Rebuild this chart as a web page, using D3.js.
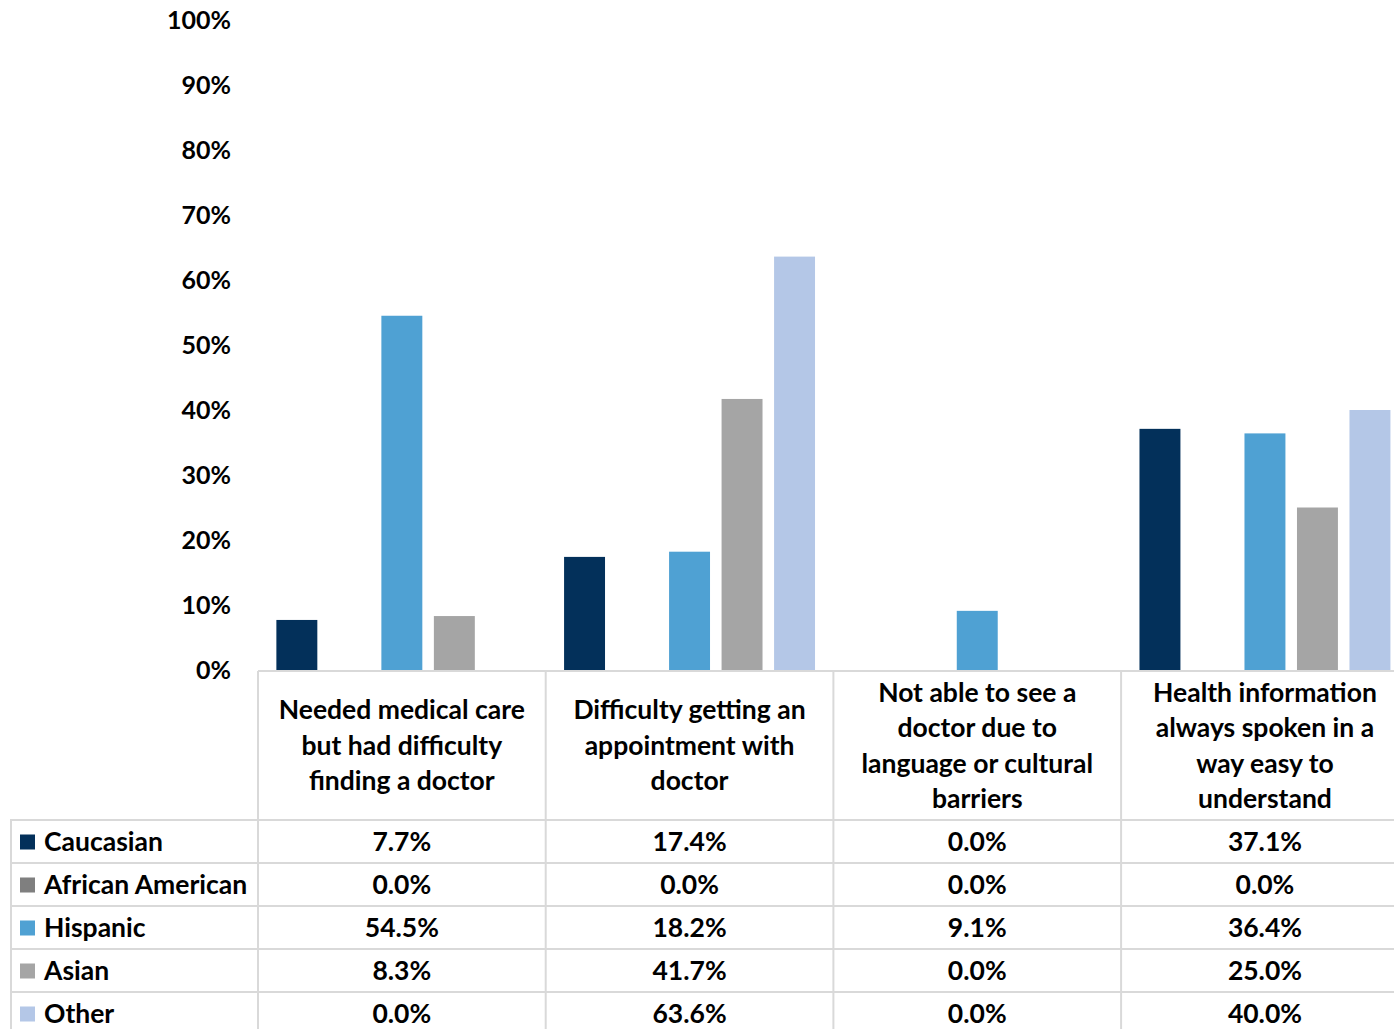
<!DOCTYPE html>
<html>
<head>
<meta charset="utf-8">
<script src="https://cdn.jsdelivr.net/npm/d3@7"></script>
<style>
  body { margin: 0; background: #fff; }
  svg text { font-family: Lato, "Open Sans", sans-serif; font-weight: 700; fill: #000; }
</style>
</head>
<body>
<svg id="chart"></svg>
<script>
// categories and their wrapped header lines
var categories = ["need", "appt", "lang", "info"];
var categoryLines = [
    ["Needed medical care", "but had difficulty", "finding a doctor"],
    ["Difficulty getting an", "appointment with", "doctor"],
    ["Not able to see a", "doctor due to", "language or cultural", "barriers"],
    ["Health information", "always spoken in a", "way easy to", "understand"]
];
var series = ["Caucasian", "African American", "Hispanic", "Asian", "Other"];
var colors = ["#03305A", "#7F7F7F", "#4FA1D3", "#A5A5A5", "#B4C7E7"];

// values in %, one array per series (same order as categories)
var caucasian = [7.7, 17.4, 0.0, 37.1];
var africanAmerican = [0.0, 0.0, 0.0, 0.0];
var hispanic = [54.5, 18.2, 9.1, 36.4];
var asian = [8.3, 41.7, 0.0, 25.0];
var other = [0.0, 63.6, 0.0, 40.0];
var yTicks = [0, 10, 20, 30, 40, 50, 60, 70, 80, 90, 100];

var values = [caucasian, africanAmerican, hispanic, asian, other];

var W = 1394, H = 1029;
var fontSize = "26.5px";
var svg = d3.select("#chart").attr("width", W).attr("height", H);

var bandW = 287.7;
var x0 = d3.scaleBand()
    .domain(categories)
    .range([258, 258 + bandW * categories.length])
    .padding(0);

var x1 = d3.scaleBand()
    .domain(series)
    .range([0, x0.bandwidth()])
    .paddingInner(0.22)
    .paddingOuter(0.35);

var yScale = d3.scaleLinear()
    .domain([0, 100])
    .range([670, 20]);

// y axis labels
var yAxis = svg.append("g")
    .attr("transform", "translate(231,0)")
    .call(d3.axisLeft(yScale).tickValues(yTicks).tickFormat(function(d) { return d + "%"; }).tickSize(0).tickPadding(0));
yAxis.select(".domain").remove();
yAxis.selectAll("text")
    .style("font-family", "Lato, 'Open Sans', sans-serif")
    .style("font-weight", "700")
    .style("font-size", "25px")
    .attr("fill", "#000");

// bars
var barData = [];
series.forEach(function(s, si) {
    categories.forEach(function(c, ci) {
        barData.push({ series: s, cat: c, value: values[si][ci], color: colors[si] });
    });
});

svg.append("g").selectAll("rect")
    .data(barData.filter(function(d) { return d.value > 0; }))
    .enter().append("rect")
    .attr("x", function(d) { return x0(d.cat) + x1(d.series); })
    .attr("y", function(d) { return yScale(d.value); })
    .attr("width", x1.bandwidth())
    .attr("height", function(d) { return yScale(0) - yScale(d.value); })
    .attr("fill", function(d) { return d.color; });

// data table
var lineColor = "#D9D9D9";
var headerTop = 671, rowTop = 820, rowH = 43;
var table = svg.append("g");

// header top line
table.append("line")
    .attr("x1", 258).attr("x2", W)
    .attr("y1", headerTop).attr("y2", headerTop)
    .attr("stroke", lineColor).attr("stroke-width", 2);

// row lines
d3.range(series.length + 1).forEach(function(i) {
    table.append("line")
        .attr("x1", 10).attr("x2", W)
        .attr("y1", rowTop + i * rowH).attr("y2", rowTop + i * rowH)
        .attr("stroke", lineColor).attr("stroke-width", 2);
});

// vertical lines
table.append("line")
    .attr("x1", 11).attr("x2", 11)
    .attr("y1", rowTop).attr("y2", H)
    .attr("stroke", lineColor).attr("stroke-width", 2);
categories.forEach(function(c) {
    table.append("line")
        .attr("x1", x0(c)).attr("x2", x0(c))
        .attr("y1", headerTop).attr("y2", H)
        .attr("stroke", lineColor).attr("stroke-width", 2);
});

// header text
var lineH = 35.5;
categories.forEach(function(c, ci) {
    var lines = categoryLines[ci];
    var midY = (headerTop + rowTop) / 2;
    var startY = midY - (lines.length - 1) * lineH / 2;
    var t = table.append("text")
        .attr("x", x0(c) + x0.bandwidth() / 2)
        .attr("text-anchor", "middle")
        .style("font-size", fontSize);
    lines.forEach(function(l, li) {
        t.append("tspan")
            .attr("x", x0(c) + x0.bandwidth() / 2)
            .attr("y", startY + li * lineH)
            .attr("dy", "0.35em")
            .text(l);
    });
});

// legend rows and values
series.forEach(function(s, si) {
    var cy = rowTop + si * rowH + rowH / 2;
    table.append("rect")
        .attr("x", 20).attr("y", cy - 7)
        .attr("width", 15).attr("height", 15)
        .attr("fill", colors[si]);
    table.append("text")
        .attr("x", 44).attr("y", cy).attr("dy", "0.35em")
        .style("font-size", fontSize)
        .text(s);
    categories.forEach(function(c, ci) {
        table.append("text")
            .attr("x", x0(c) + x0.bandwidth() / 2)
            .attr("y", cy).attr("dy", "0.35em")
            .attr("text-anchor", "middle")
            .style("font-size", fontSize)
            .text(values[si][ci].toFixed(1) + "%");
    });
});
</script>
</body>
</html>
